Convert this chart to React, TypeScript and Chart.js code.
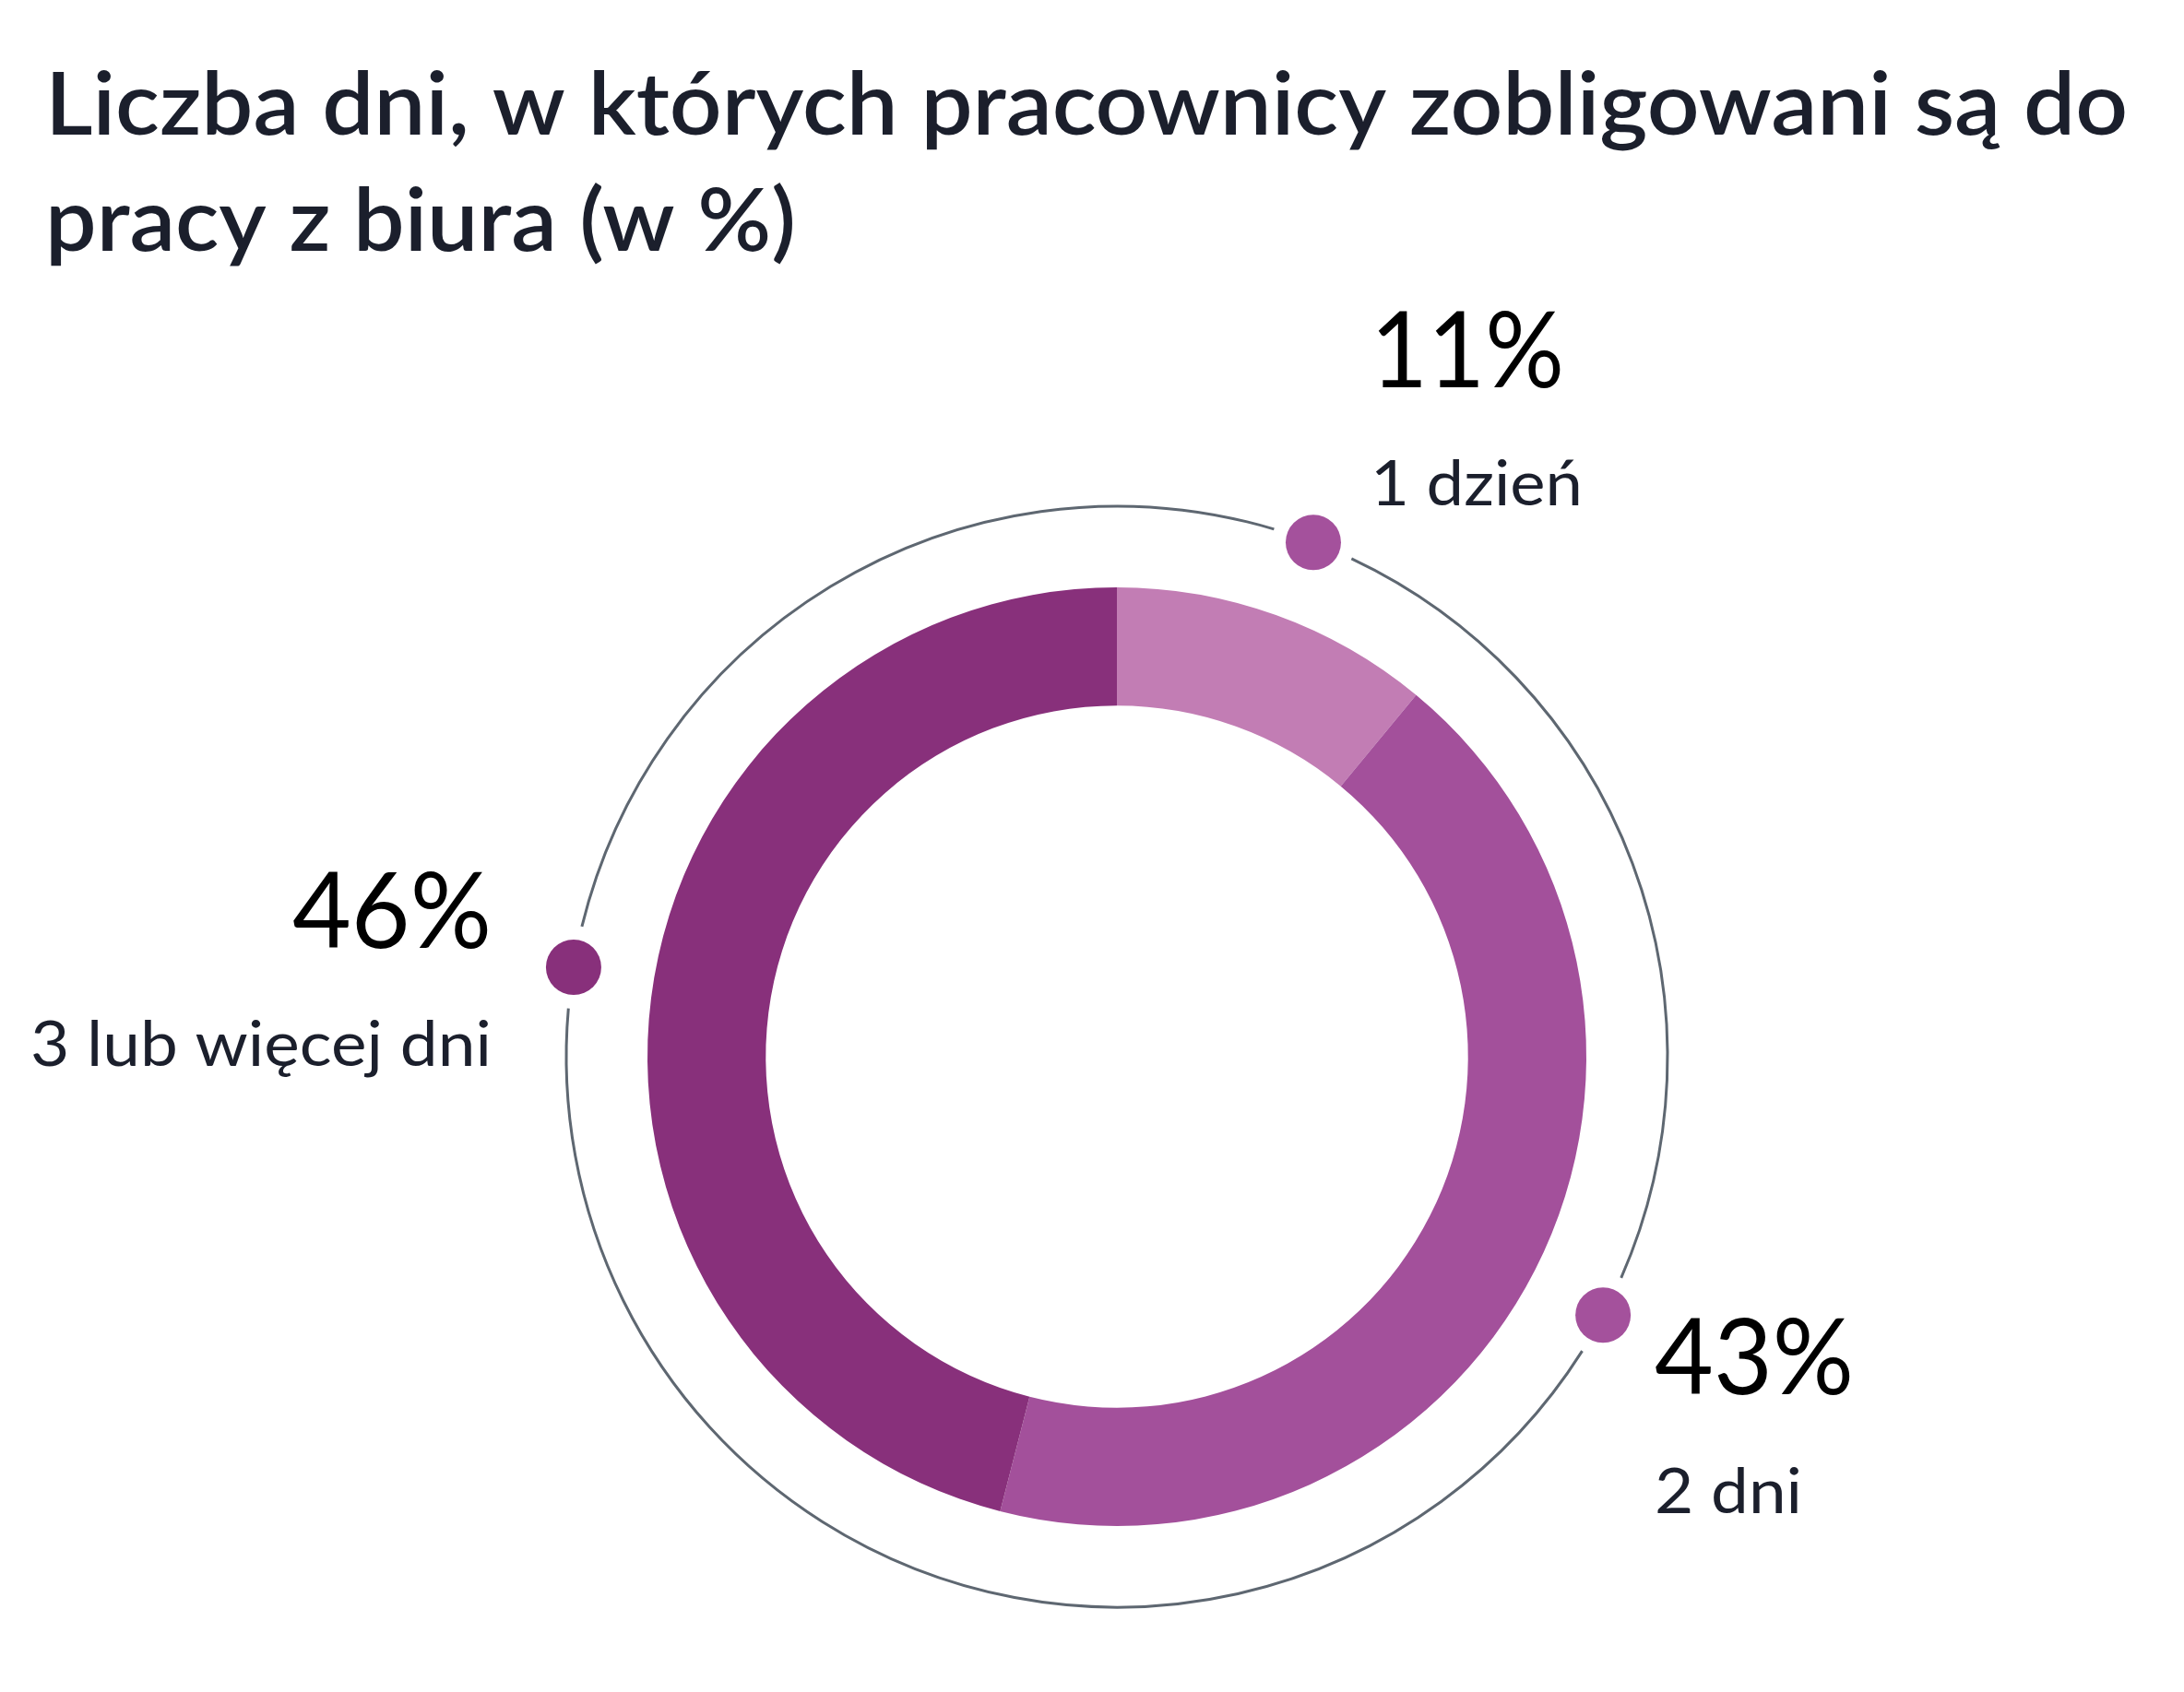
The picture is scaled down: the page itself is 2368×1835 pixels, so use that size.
import React, { useEffect, useRef } from "react";
import { Chart, registerables } from "chart.js";

Chart.register(...registerables);

// ---- data ----
const titleLines = [
  "Liczba dni, w których pracownicy zobligowani są do",
  "pracy z biura (w %)",
];
const categories = ["1 dzień", "2 dni", "3 lub więcej dni"];
const values = [11, 43, 46];
const valueLabels = ["11%", "43%", "46%"];
const segmentColors = ["#C27DB4", "#A3509B", "#88307B"];
const dotColors = ["#A4519C", "#A4519C", "#88307B"];

// ---- layout ----
const W = 2368;
const H = 1835;
const PAD = { left: 702, right: 648, top: 637, bottom: 180 };
const RING_FACTOR = 597 / 509;
const DOT_R = 30;
const GAP_PX = 45;
const DOT_ANGLE_SHIFT_DEG = [1.1, 1.0, 2.15];
const TITLE = { x: 49, baselines: [146, 272], size: 94, widths: [2258, 814], color: "#1B1F2C" };
const LABELS = [
  { dx: 62, align: "left", valueDy: -168, catDy: -40, valueW: 210, catW: 230 },
  { dx: 56, align: "left", valueDy: 86, catDy: 215, valueW: 216, catW: 160 },
  { dx: -89, align: "right", valueDy: -21, catDy: 107, valueW: 216, catW: 500 },
];
const VALUE_SIZE = 115;
const CAT_SIZE = 68;

function drawFit(
  ctx: CanvasRenderingContext2D,
  text: string,
  x: number,
  y: number,
  font: string,
  color: string,
  targetW: number,
  align: "left" | "right"
) {
  ctx.save();
  ctx.font = font;
  ctx.fillStyle = color;
  ctx.textBaseline = "alphabetic";
  ctx.textAlign = align;
  const w = ctx.measureText(text).width;
  const sx = w > 0 ? targetW / w : 1;
  ctx.translate(x, y);
  ctx.scale(sx, 1);
  ctx.fillText(text, 0, 0);
  ctx.restore();
}

const decorPlugin = {
  id: "decor",
  afterDraw(chart: any) {
    const ctx: CanvasRenderingContext2D = chart.ctx;
    const meta = chart.getDatasetMeta(0);
    const arcs = meta.data;
    if (!arcs.length) return;
    const cx = arcs[0].x;
    const cy = arcs[0].y;
    const ringR = arcs[0].outerRadius * RING_FACTOR;

    // title
    titleLines.forEach((t, i) => {
      drawFit(ctx, t, TITLE.x, TITLE.baselines[i], `600 ${TITLE.size}px Lato`, TITLE.color, TITLE.widths[i], "left");
    });

    const mids = arcs.map(
      (a: any, i: number) => (a.startAngle + a.endAngle) / 2 + (DOT_ANGLE_SHIFT_DEG[i] * Math.PI) / 180
    );
    const gap = GAP_PX / ringR;
    const order = mids.map((m: number, i: number) => i).sort((a: number, b: number) => mids[a] - mids[b]);

    // ring segments between dots
    ctx.save();
    ctx.strokeStyle = "#5E6771";
    ctx.lineWidth = 3;
    for (let k = 0; k < order.length; k++) {
      const a0 = mids[order[k]] + gap;
      let a1 = mids[order[(k + 1) % order.length]] - gap;
      if (k === order.length - 1) a1 += Math.PI * 2;
      ctx.beginPath();
      ctx.arc(cx, cy, ringR, a0, a1);
      ctx.stroke();
    }
    ctx.restore();

    // dots and labels
    mids.forEach((m: number, i: number) => {
      const px = cx + ringR * Math.cos(m);
      const py = cy + ringR * Math.sin(m);
      ctx.save();
      ctx.fillStyle = dotColors[i];
      ctx.beginPath();
      ctx.arc(px, py, DOT_R, 0, Math.PI * 2);
      ctx.fill();
      ctx.restore();
      const L = LABELS[i];
      const al = L.align as "left" | "right";
      drawFit(ctx, valueLabels[i], px + L.dx, py + L.valueDy, `400 ${VALUE_SIZE}px Lato`, "#000000", L.valueW, al);
      drawFit(ctx, categories[i], px + L.dx, py + L.catDy, `400 ${CAT_SIZE}px Lato`, "#1B1F2C", L.catW, al);
    });
  },
};

export default function App() {
  const ref = useRef<HTMLCanvasElement | null>(null);
  useEffect(() => {
    if (!ref.current) return;
    const chart = new Chart(ref.current, {
      type: "doughnut",
      data: {
        labels: categories,
        datasets: [
          {
            data: values,
            backgroundColor: segmentColors,
            borderWidth: 0,
            hoverOffset: 0,
          },
        ],
      },
      options: {
        responsive: false,
        animation: false,
        devicePixelRatio: 1,
        cutout: "74.8%",
        layout: { padding: PAD },
        plugins: {
          legend: { display: false },
          tooltip: { enabled: false },
          title: { display: false },
        },
      },
      plugins: [decorPlugin],
    });
    return () => chart.destroy();
  }, []);
  return (
    <div style={{ position: "fixed", left: 0, top: 0, width: W, height: H, background: "#fff" }}>
      <canvas ref={ref} width={W} height={H} style={{ width: W, height: H, display: "block" }} />
    </div>
  );
}
